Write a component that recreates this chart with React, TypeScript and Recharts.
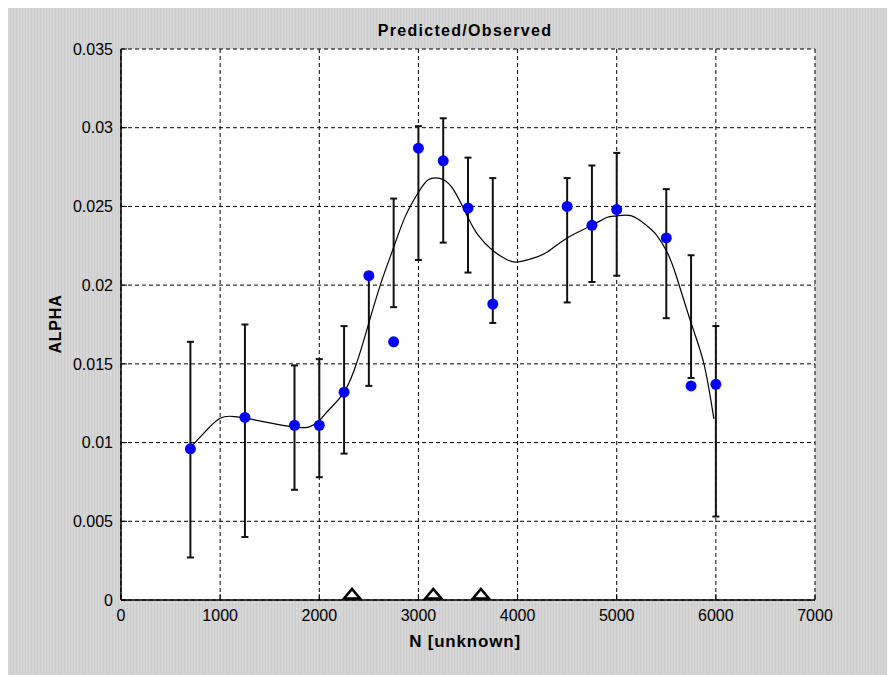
import React from 'react';
import { ComposedChart, XAxis, YAxis, CartesianGrid, Scatter, Line, ErrorBar } from 'recharts';

const sampleN = [700, 1250, 1750, 2000, 2250, 2500, 2750, 3000, 3250, 3500, 3750, 4500, 4750, 5000, 5500, 5750, 6000];
const observed = [0.0096, 0.0116, 0.0111, 0.0111, 0.0132, 0.0206, 0.0164, 0.0287, 0.0279, 0.0249, 0.0188, 0.0250, 0.0238, 0.0248, 0.0230, 0.0136, 0.0137];
const lowerBound = [0.0027, 0.0040, 0.0070, 0.0078, 0.0093, 0.0136, 0.0186, 0.0216, 0.0227, 0.0208, 0.0176, 0.0189, 0.0202, 0.0206, 0.0179, 0.0141, 0.0053];
const upperBound = [0.0164, 0.0175, 0.0149, 0.0153, 0.0174, 0.0208, 0.0255, 0.0301, 0.0306, 0.0281, 0.0268, 0.0268, 0.0276, 0.0284, 0.0261, 0.0219, 0.0174];

const fitN = [700, 850, 1000, 1150, 1300, 1500, 1750, 1900, 2000, 2100, 2250, 2380, 2500, 2620, 2750, 2870, 3000, 3100, 3200, 3250, 3350, 3500, 3600, 3750, 3900, 4000, 4150, 4300, 4500, 4750, 4900, 5000, 5150, 5300, 5400, 5500, 5600, 5750, 5880, 5980];
const fitAlpha = [0.0097, 0.0107, 0.01155, 0.01165, 0.0115, 0.01125, 0.01098, 0.0110, 0.0114, 0.0121, 0.0132, 0.0151, 0.0176, 0.0201, 0.0224, 0.0244, 0.0259, 0.0267, 0.0268, 0.0267, 0.0261, 0.0243, 0.0232, 0.0222, 0.0216, 0.02147, 0.0217, 0.0221, 0.0230, 0.0238, 0.0243, 0.0244, 0.0244, 0.0238, 0.0232, 0.0222, 0.0206, 0.0176, 0.0150, 0.0115];

const markerN = [2330, 3150, 3630];

const xTicks = [0, 1000, 2000, 3000, 4000, 5000, 6000, 7000];
const yTicks = [0, 0.005, 0.01, 0.015, 0.02, 0.025, 0.03, 0.035];

const titleText = 'Predicted/Observed';
const xLabelText = 'N [unknown]';
const yLabelText = 'ALPHA';

const obsData = sampleN.map((n, i) => ({
  x: n,
  y: observed[i],
  err: [observed[i] - lowerBound[i], upperBound[i] - observed[i]],
}));
const fitData = fitN.map((n, i) => ({ x: n, y: fitAlpha[i] }));
const markerData = markerN.map((n) => ({ x: n, y: 0 }));

const FONT = '"Liberation Sans", Arial, Helvetica, sans-serif';

const BlueDot = (p: any) => <circle cx={p.cx} cy={p.cy} r={5.5} fill="#0000ff" />;
const Tri = (p: any) => (
  <polygon
    points={`${p.cx - 8},${p.cy - 1.5} ${p.cx + 8},${p.cy - 1.5} ${p.cx},${p.cy - 11}`}
    fill="#fff"
    stroke="#000"
    strokeWidth={2.6}
  />
);

const tickStyle = { fill: '#000', fontSize: 16, fontFamily: FONT };

export default function App() {
  return (
    <div
      style={{
        position: 'relative',
        width: 887,
        height: 667,
        background: 'repeating-linear-gradient(90deg, #d6d6d6 0px, #d6d6d6 2px, #cbcbcb 2px, #cbcbcb 3px)',
        fontFamily: FONT,
      }}
    >
      <ComposedChart width={887} height={667} margin={{ top: 41, right: 80, bottom: 35, left: 43 }}>
        <CartesianGrid stroke="#000" strokeDasharray="4 3" strokeWidth={1} fill="#fff" horizontalValues={yTicks} verticalValues={xTicks} />
        <XAxis
          dataKey="x"
          type="number"
          domain={[0, 7000]}
          ticks={xTicks}
          height={40}
          stroke="#000"
          tickSize={-6}
          tickMargin={16}
          tick={tickStyle}
          tickLine={{ stroke: '#000' }}
          axisLine={{ stroke: '#000', strokeWidth: 1.5 }}
        />
        <XAxis
          xAxisId="top"
          orientation="top"
          dataKey="x"
          type="number"
          domain={[0, 7000]}
          ticks={xTicks}
          height={0}
          tickSize={-6}
          tick={false}
          tickLine={{ stroke: '#000' }}
          axisLine={{ stroke: '#000', strokeWidth: 1.5 }}
        />
        <YAxis
          dataKey="y"
          type="number"
          domain={[0, 0.035]}
          ticks={yTicks}
          width={70}
          tickSize={-6}
          tickMargin={14}
          tick={tickStyle}
          tickFormatter={(v: number) => String(v)}
          tickLine={{ stroke: '#000' }}
          axisLine={{ stroke: '#000', strokeWidth: 1.5 }}
        />
        <YAxis
          yAxisId="right"
          orientation="right"
          dataKey="y"
          type="number"
          domain={[0, 0.035]}
          ticks={yTicks}
          width={0}
          tickSize={-6}
          tick={false}
          tickLine={{ stroke: '#000' }}
          axisLine={{ stroke: '#000', strokeWidth: 1.5 }}
        />
        <Scatter data={obsData} dataKey="y" shape={BlueDot} isAnimationActive={false}>
          <ErrorBar
            dataKey="err"
            direction="y"
            width={3.5}
            stroke="#111"
            strokeWidth={2}
            isAnimationActive={false}
          />
        </Scatter>
        <Line
          data={fitData}
          dataKey="y"
          type="natural"
          dot={false}
          stroke="#000"
          strokeWidth={1.2}
          isAnimationActive={false}
          activeDot={false}
        />
        <Scatter data={markerData} dataKey="y" shape={Tri} isAnimationActive={false} />
      </ComposedChart>
      <div
        style={{
          position: 'absolute',
          left: 0,
          width: 914,
          top: 14,
          textAlign: 'center',
          fontWeight: 'bold',
          fontSize: 16,
          lineHeight: '17px',
          letterSpacing: 1.3,
          color: '#000',
        }}
      >
        {titleText}
      </div>
      <div
        style={{
          position: 'absolute',
          left: 0,
          width: 914,
          top: 625,
          textAlign: 'center',
          fontWeight: 'bold',
          fontSize: 17,
          lineHeight: '17px',
          letterSpacing: 0.8,
          color: '#000',
        }}
      >
        {xLabelText}
      </div>
      <div
        style={{
          position: 'absolute',
          left: 47,
          top: 316,
          transform: 'translate(-50%, -50%) rotate(-90deg)',
          fontWeight: 'bold',
          fontSize: 16,
          lineHeight: '17px',
          letterSpacing: 0.8,
          color: '#000',
          whiteSpace: 'nowrap',
        }}
      >
        {yLabelText}
      </div>
    </div>
  );
}
